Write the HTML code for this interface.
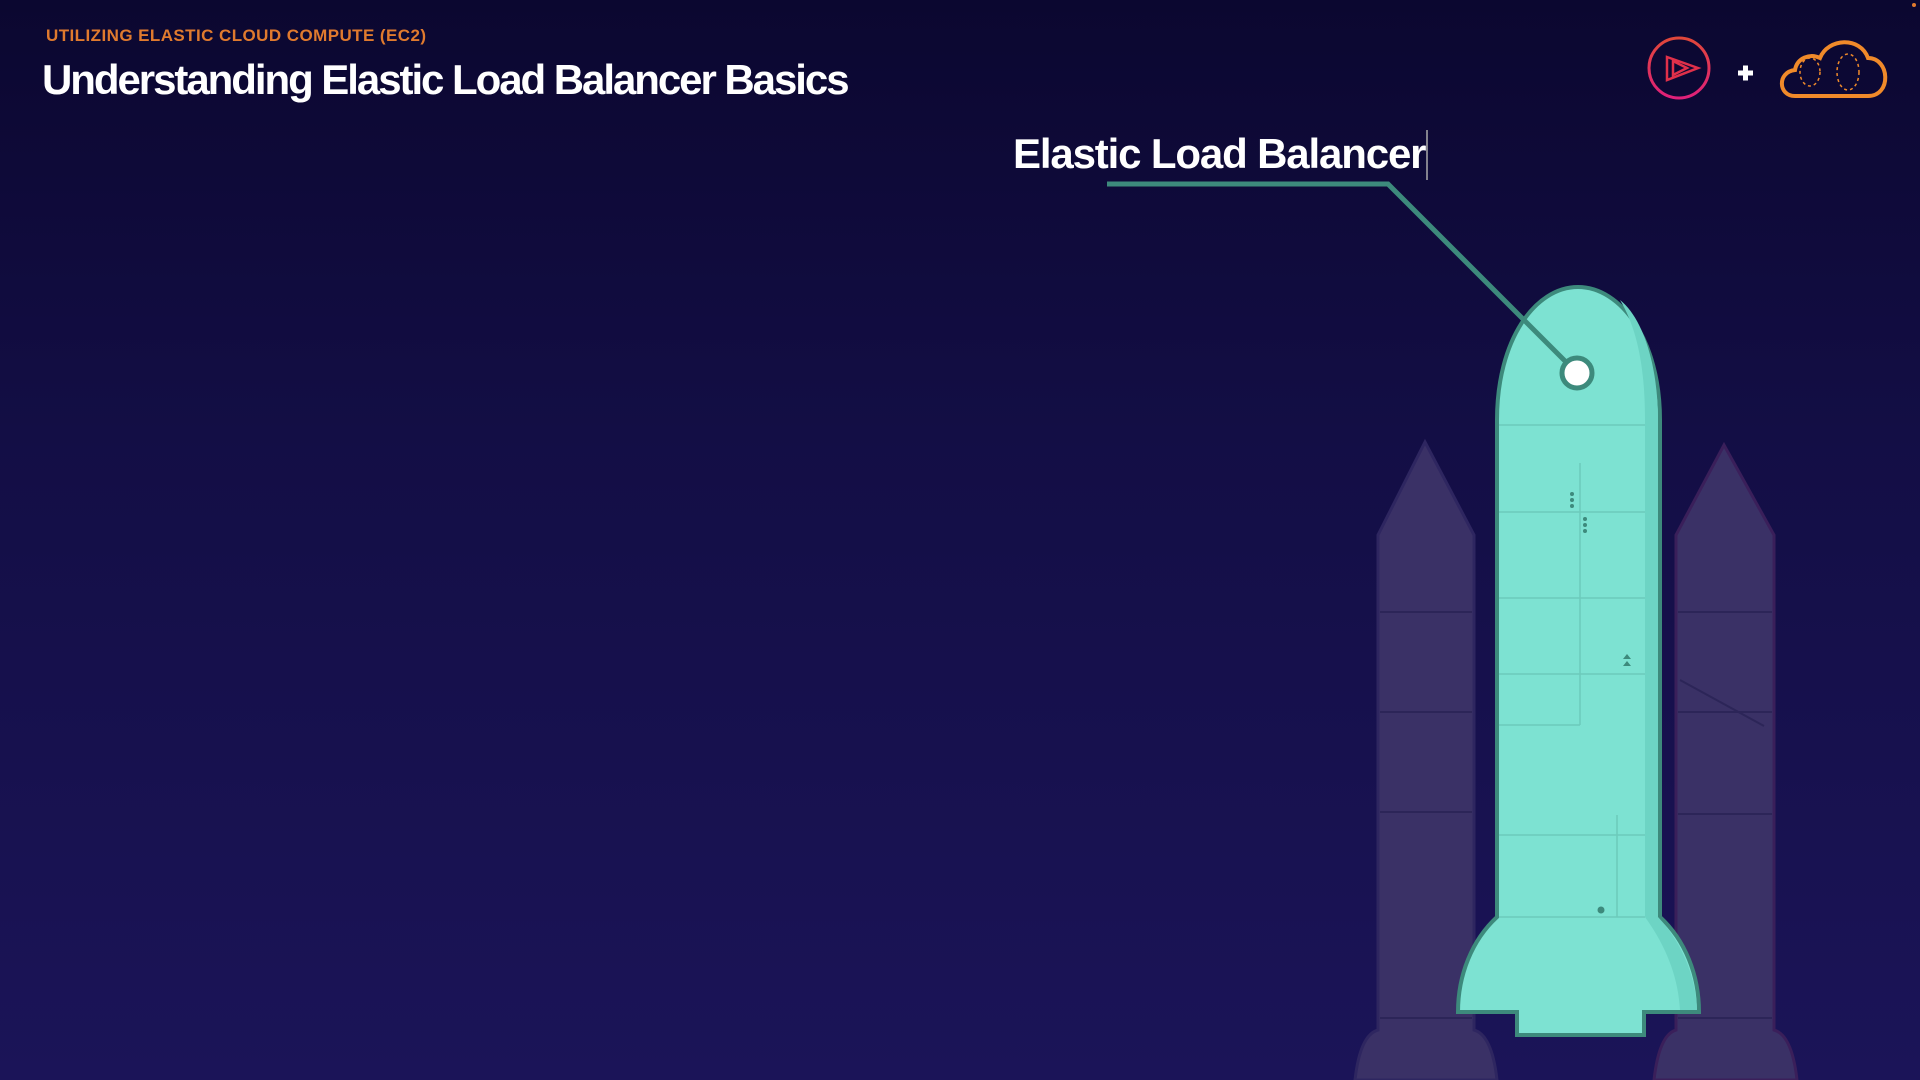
<!DOCTYPE html>
<html><head><meta charset="utf-8"><style>
html,body{margin:0;padding:0}
body{width:1920px;height:1080px;overflow:hidden;position:relative;background:linear-gradient(180deg,#0b0730 0%,#130e45 40%,#1b1458 100%);font-family:"Liberation Sans",sans-serif}
.sub{position:absolute;left:46px;top:26px;font-size:17px;font-weight:bold;color:#e07a2e;letter-spacing:0.43px}
.title{position:absolute;left:42px;top:56px;font-size:42px;font-weight:bold;color:#fff;letter-spacing:-2.05px}
.elb{position:absolute;left:1013px;top:130px;font-size:42px;font-weight:bold;color:#fff;letter-spacing:-1.15px}
svg{position:absolute;left:0;top:0}
</style></head><body>
<div class="sub">UTILIZING ELASTIC CLOUD COMPUTE (EC2)</div>
<div class="title">Understanding Elastic Load Balancer Basics</div>
<div class="elb">Elastic Load Balancer</div>
<svg width="1920" height="1080" viewBox="0 0 1920 1080">
<defs><linearGradient id="pg" x1="0" y1="0" x2="0" y2="1"><stop offset="0" stop-color="#e0473a"/><stop offset="1" stop-color="#e0207a"/></linearGradient></defs>
<line x1="1427" y1="130" x2="1427" y2="180" stroke="#aaa" stroke-width="1.5"/>
<g fill="#3a3166" stroke="#2e2660" stroke-width="3">
<path d="M1355 1080 Q1360 1035 1378 1030 L1378 535 L1425 442 L1474 535 L1474 1030 Q1492 1035 1497 1080 Z"/>
<path d="M1654 1080 Q1659 1035 1676 1030 L1676 535 L1724 445 L1774 535 L1774 1030 Q1792 1035 1797 1080 Z" stroke="#3a1f5a"/>
</g>
<g stroke="#2c2558" stroke-width="2" fill="none">
<line x1="1380" y1="612" x2="1472" y2="612"/><line x1="1380" y1="712" x2="1472" y2="712"/><line x1="1380" y1="812" x2="1472" y2="812"/><line x1="1380" y1="1018" x2="1472" y2="1018"/>
<line x1="1678" y1="612" x2="1772" y2="612"/><line x1="1678" y1="712" x2="1772" y2="712"/><line x1="1678" y1="814" x2="1772" y2="814"/><line x1="1678" y1="1018" x2="1772" y2="1018"/>
<line x1="1680" y1="680" x2="1764" y2="726"/>
</g>
<path d="M1497 917 L1497 420 C1497 340 1535 287 1578 287 C1621 287 1660 340 1660 420 L1660 917 C1685 940 1699 975 1699 1012 L1644 1012 L1644 1035 L1517 1035 L1517 1012 L1458 1012 C1458 975 1472 940 1497 917 Z" fill="#7de2d2" stroke="#3d8a7c" stroke-width="4"/>
<path d="M1620 300 C1645 320 1658 370 1658 420 L1658 917 C1680 940 1696 975 1697 1010 L1680 1010 C1678 975 1665 945 1645 917 L1645 420 C1645 370 1638 330 1620 300Z" fill="#6dd4c4"/>
<g stroke="#6ccabb" stroke-width="1.5" fill="none">
<line x1="1499" y1="425" x2="1645" y2="425"/><line x1="1499" y1="512" x2="1645" y2="512"/><line x1="1499" y1="598" x2="1645" y2="598"/><line x1="1499" y1="674" x2="1645" y2="674"/><line x1="1499" y1="835" x2="1645" y2="835"/><line x1="1499" y1="917" x2="1645" y2="917"/>
<line x1="1580" y1="463" x2="1580" y2="725"/><line x1="1499" y1="725" x2="1580" y2="725"/><line x1="1617" y1="815" x2="1617" y2="917"/>
</g>
<g fill="#3d8a7c"><circle cx="1572" cy="494" r="2"/><circle cx="1572" cy="500" r="2"/><circle cx="1572" cy="506" r="2"/><circle cx="1585" cy="519" r="2"/><circle cx="1585" cy="525" r="2"/><circle cx="1585" cy="531" r="2"/><circle cx="1601" cy="910" r="3.5"/><path d="M1627 654l4 5h-8zM1627 661l4 5h-8z"/></g>
<polyline points="1107,184 1388,184 1577,373" fill="none" stroke="#3d8a7c" stroke-width="5"/>
<circle cx="1577" cy="373" r="15" fill="#fff" stroke="#3d8a7c" stroke-width="5"/>
<circle cx="1679" cy="68" r="30" fill="none" stroke="url(#pg)" stroke-width="3"/>
<path d="M1667 57 L1698 68 L1667 80 Z M1673 61 L1673 75 L1687 68 Z" fill="none" stroke="#e0304a" stroke-width="2.5"/>
<path d="M1738 73h15M1745.5 65.5v15" stroke="#fff" stroke-width="5"/>
<path d="M1795 96 C1778 96 1777 72 1795 70 C1797 58 1810 53 1820 58 C1828 38 1860 36 1868 58 C1890 58 1892 96 1868 96 Z" fill="none" stroke="#f08a2a" stroke-width="4"/>
<g fill="none" stroke="#f08a2a" stroke-width="1.5" stroke-dasharray="3 3"><ellipse cx="1810" cy="72" rx="10" ry="14"/><ellipse cx="1848" cy="72" rx="11" ry="18"/></g>
<circle cx="1914" cy="5" r="2" fill="#e07a2e"/>
</svg>
</body></html>
